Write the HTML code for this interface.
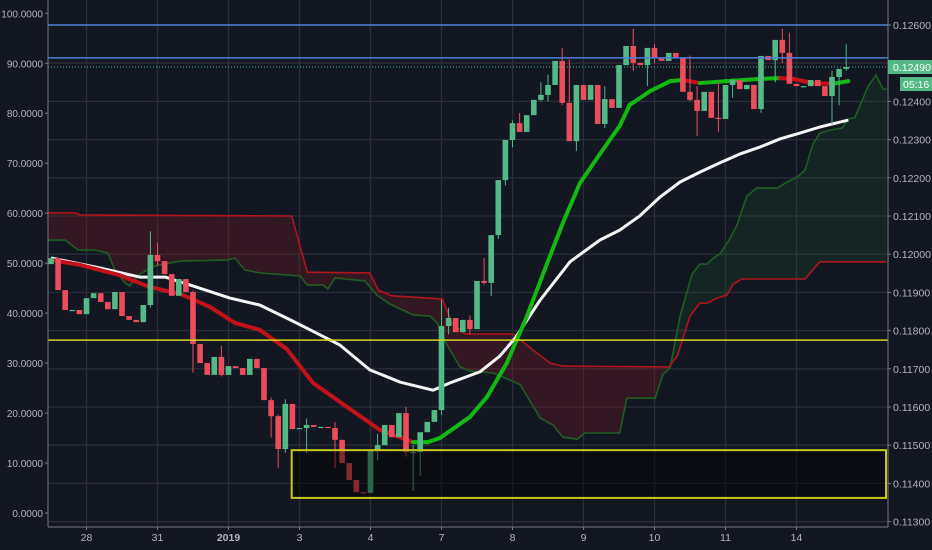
<!DOCTYPE html>
<html><head><meta charset="utf-8"><style>
html,body{margin:0;padding:0;background:#131722;}
svg{display:block;font-family:"Liberation Sans",sans-serif;}
</style></head><body>
<svg id="chart" width="932" height="550" viewBox="0 0 932 550" xmlns="http://www.w3.org/2000/svg">
<rect x="0" y="0" width="932" height="550" fill="#131722"/>
<g id="grid"></g>
<g id="cloud"></g>
<g id="lines"></g>
<g id="candles"></g>
<g id="overlay"></g>
<g id="axes"></g>
</svg>
<script>
// ---- data ----
const closes = [11990,11906,11854,11854,11843,11885,11898,11875,11856,11901,11838,11828,11822,11867,11998,11982,11948,11891,11935,11901,11765,11715,11684,11731,11684,11707,11702,11684,11726,11702,11618,11576,11490,11608,11542,11545,11553,11548,11548,11545,11514,11453,11409,11377,11375,11485,11500,11553,11521,11584,11482,11482,11534,11561,11592,11812,11833,11796,11828,11804,11930,11925,12050,12194,12299,12343,12320,12364,12404,12417,12443,12506,12396,12296,12443,12404,12443,12341,12406,12383,12495,12545,12501,12495,12540,12514,12506,12527,12514,12425,12404,12375,12425,12357,12354,12443,12456,12432,12443,12380,12519,12508,12561,12527,12446,12440,12440,12456,12440,12414,12464,12485,12490];
const firstOpen = 11974;
const wickIdx = [14,15,20,24,31,32,33,36,40,46,50,51,52,55,56,59,61,62,63,64,65,66,69,70,72,73,74,78,82,84,85,90,91,94,96,100,102,103,104,110,111,112];
const wickHi  = [12060,12030,11905,11760,11625,11580,11620,11570,11560,11530,11600,11500,11500,11880,11860,11840,11990,11940,12110,12230,12350,12370,12450,12470,12540,12510,12390,12440,12590,12520,12550,12520,12440,12450,12460,12450,12550,12590,12580,12480,12470,12550];
const wickLo  = [11860,11970,11690,11680,11520,11440,11480,11480,11440,11460,11470,11380,11420,11580,11790,11790,11920,11890,12040,12180,12280,12320,12400,12400,12390,12300,12270,12330,12480,12440,12500,12400,12310,12320,12410,12370,12450,12500,12480,12340,12390,12480];
const smaT = [0,6.9,12.5,16.1,19.6,25.2,29.4,33.7,36.5,40.7,44.9,49.2,53.8,56.2,60.4,63.2,65.4,68.9,73.1,77.3,80.1,82.9,85.8,88.6,91.4,94.2,97.0,99.9,102.7,105.5,108.3,112.3];
const smaV = [11990,11964,11940,11940,11919,11885,11867,11828,11802,11762,11697,11665,11644,11663,11692,11733,11781,11880,11980,12037,12063,12100,12150,12189,12215,12239,12262,12281,12302,12317,12333,12351];
const emaT = [0,4.1,9.7,13.9,18.2,22.4,25.9,29.4,33.2,36.9,41.7,46.3,51.0,53.1,54.8,59.0,61.4,64.2,67.0,69.9,72.1,74.5,77.3,80.1,81.5,84.4,87.2,89.0,91.4,95.2,99.9,102.7,104.5,107.3,110.1,112.3];
const emaV = [11985,11972,11945,11914,11896,11862,11820,11802,11752,11663,11600,11540,11508,11508,11519,11574,11626,11715,11836,11977,12082,12186,12262,12336,12391,12427,12453,12456,12448,12453,12459,12461,12459,12448,12446,12453];
const spanBT = [-0.4,3.4,4.1,33.9,36.1,44.9,46.1,48.0,55.1,56.5,58.3,65.1,67.9,70.3,72.1,87.0,88.2,90.0,91.4,92.4,93.8,95.2,96.1,97.3,106.2,107.3,108.3,117.7];
const spanBV = [12108,12108,12103,12100,11953,11951,11906,11891,11883,11820,11791,11791,11749,11715,11707,11705,11733,11838,11872,11872,11885,11893,11922,11935,11935,11959,11980,11980];
const spanAT = [-0.4,2.0,3.8,6.2,8.0,9.0,10.4,11.1,12.5,14.6,18.2,24.9,25.9,27.3,29.4,35.1,36.1,38.3,39.0,40.0,44.2,45.9,47.7,51.0,53.4,54.4,55.8,57.6,59.0,62.3,64.6,66.1,68.9,70.7,72.1,74.1,75.2,80.1,81.1,85.1,86.2,87.2,88.6,90.3,91.4,92.4,93.5,94.2,95.6,96.6,98.0,99.4,102.3,103.7,105.1,106.2,107.3,108.3,109.7,111.4,112.3,113.2,115.1,116.2,117.2,117.7];
const spanAV = [12037,12037,12011,12011,12003,11959,11925,11917,11948,11969,11982,11985,11990,11959,11951,11943,11919,11919,11909,11938,11930,11893,11870,11841,11838,11820,11762,11705,11694,11689,11671,11658,11571,11553,11521,11516,11532,11532,11623,11623,11686,11702,11838,11948,11974,11974,11993,12000,12040,12076,12152,12173,12173,12189,12202,12220,12288,12317,12325,12330,12354,12357,12440,12469,12432,12432];
const priceTicks = [12600,12500,12400,12300,12200,12100,12000,11900,11800,11700,11600,11500,11400,11300];
const leftTicks = [100,90,80,70,60,50,40,30,20,10,0];
const dayLabels = ["28","31","2019","3","4","7","8","9","10","11","14"];
const dayT = [5,15,25,35,45,55,65,75,85,95,105];
const blueLevels = [12600,12514];
const yellowLevel = 11775;
const boxTop = 11487, boxBottom = 11362, boxStartT = 33.9;
const lastPrice = 12490;

// ---- scales ----
const PL=48, PR=888, PB=527;
const xS = t => 51 + t*7.1;
const yS = v => 25 + (12600 - v)*0.382;
const yL = v => 13.3 + (100 - v)*4.997;
const NS="http://www.w3.org/2000/svg";
function mk(tag, parent, attrs){const e=document.createElementNS(NS,tag);for(const k in attrs)e.setAttribute(k,attrs[k]);parent.appendChild(e);return e;}
const grid=document.getElementById('grid'), cloud=document.getElementById('cloud'), lines=document.getElementById('lines'), cg=document.getElementById('candles'), ov=document.getElementById('overlay'), ax=document.getElementById('axes');

const defs=mk('defs',document.getElementById('chart'),{});
const cp=mk('clipPath',defs,{id:'plotclip'});
mk('rect',cp,{x:PL,y:0,width:PR-PL,height:PB});
[cloud,lines,cg,ov].forEach(g=>g.setAttribute('clip-path','url(#plotclip)'));

// grid
priceTicks.forEach(v=>{
  const l=mk('line',grid,{x1:PL,x2:PR,y1:yS(v),y2:yS(v),stroke:'#2a2e39','stroke-width':1.3});
  
  
});
dayT.forEach(t=>{
  const l=mk('line',grid,{x1:xS(t),x2:xS(t),y1:0,y2:PB,stroke:'#2a2e39','stroke-width':1.3});
  
  
});

// cloud fill: contiguous runs as single polygons
function interp(T,V,t){if(t<=T[0])return V[0];for(let i=1;i<T.length;i++){if(t<=T[i]){const f=(t-T[i-1])/(T[i]-T[i-1]);return V[i-1]+f*(V[i]-V[i-1]);}}return V[V.length-1];}
const t0=Math.max(spanAT[0],spanBT[0]), t1=Math.min(spanAT[spanAT.length-1],spanBT[spanBT.length-1]);
const samples=[];
for(let t=t0;t<=t1+1e-9;t+=0.2){samples.push([t,interp(spanAT,spanAV,t),interp(spanBT,spanBV,t)]);}
let run=[], runGreen=null;
function flush(){
  if(run.length<2){return;}
  const top=run.map(s=>xS(s[0]).toFixed(1)+','+yS(s[1]).toFixed(1));
  const bot=run.slice().reverse().map(s=>xS(s[0]).toFixed(1)+','+yS(s[2]).toFixed(1));
  const p=mk('polygon',cloud,{points:top.concat(bot).join(' '),fill:runGreen?'rgba(40,110,50,0.16)':'rgba(120,25,35,0.32)'});
  
  
}
samples.forEach(s=>{
  const g=s[1]>=s[2];
  if(runGreen===null){runGreen=g;}
  if(g!==runGreen){run.push(s);flush();run=[s];runGreen=g;}
  else run.push(s);
});
flush();
function path(T,V){return T.map((t,i)=>(i?'L':'M')+xS(t).toFixed(1)+','+yS(V[i]).toFixed(1)).join('');}
const pa=mk('path',cloud,{d:path(spanAT,spanAV),fill:'none',stroke:'#1e5e22','stroke-width':1.6});


const pb=mk('path',cloud,{d:path(spanBT,spanBV),fill:'none',stroke:'#b0141c','stroke-width':1.6});



// candles
for(let i=0;i<closes.length;i++){
  const o=i?closes[i-1]:firstOpen, c=closes[i];
  const up=c>=o, col=up?'#53b987':'#eb4d5c';
  const x=xS(i);
  const k=wickIdx.indexOf(i);
  if(k>=0){
    const w=mk('line',cg,{x1:x,x2:x,y1:yS(wickHi[k]),y2:yS(wickLo[k]),stroke:col,'stroke-width':1});
    
    
  }
  const top=yS(Math.max(o,c)), h=Math.max(1.2,Math.abs(yS(o)-yS(c)));
  const r=mk('rect',cg,{x:x-2.8,y:top,width:5.6,height:h,fill:col});
  
  
}

// SMA
const sma=mk('path',lines,{d:path(smaT,smaV),fill:'none',stroke:'#f4f4f4','stroke-width':3,'stroke-linejoin':'round'});


// EMA colored by slope
for(let i=1;i<emaT.length;i++){
  const up=emaV[i]>=emaV[i-1];
  const s=mk('line',lines,{x1:xS(emaT[i-1]),y1:yS(emaV[i-1]),x2:xS(emaT[i]),y2:yS(emaV[i]),stroke:up?'#11b911':'#c4101a','stroke-width':4,'stroke-linecap':'round'});
  
  
}

// drawings
blueLevels.forEach(v=>{
  const l=mk('line',ov,{x1:PL,x2:PR,y1:yS(v),y2:yS(v),stroke:'#4c7fd6','stroke-width':1.5});
  
  
});
const dl=mk('line',ov,{x1:PL,x2:PR,y1:yS(lastPrice),y2:yS(lastPrice),stroke:'#53b987','stroke-width':1,'stroke-dasharray':'1,2'});


const yl=mk('line',ov,{x1:PL,x2:PR,y1:yS(yellowLevel),y2:yS(yellowLevel),stroke:'#d6d61c','stroke-width':1.5});


const bx=mk('rect',ov,{x:xS(boxStartT),y:yS(boxTop),width:PR-xS(boxStartT)-2,height:yS(boxBottom)-yS(boxTop),fill:'rgba(0,0,0,0.45)',stroke:'#c8c81a','stroke-width':2});



// axes
mk('line',ax,{x1:PL,x2:PL,y1:0,y2:PB,stroke:'#787b86','stroke-width':1});
mk('line',ax,{x1:PR,x2:PR,y1:0,y2:PB,stroke:'#787b86','stroke-width':1});
mk('line',ax,{x1:PL,x2:PR,y1:PB,y2:PB,stroke:'#787b86','stroke-width':1});
leftTicks.forEach(v=>{
  mk('line',ax,{x1:PL-3,x2:PL,y1:yL(v),y2:yL(v),stroke:'#787b86'});
  const t=mk('text',ax,{x:PL-5,y:yL(v)+4,'text-anchor':'end','font-size':10,fill:'#b2b5be'});
  t.textContent=v.toFixed(4);
  
  
});
priceTicks.forEach(v=>{
  mk('line',ax,{x1:PR,x2:PR+3,y1:yS(v),y2:yS(v),stroke:'#787b86'});
  const t=mk('text',ax,{x:PR+5,y:yS(v)+4,'font-size':10.5,fill:'#b2b5be'});
  t.textContent=(v/100000).toFixed(5);
  
  
});
dayT.forEach((t,i)=>{
  mk('line',ax,{x1:xS(t),x2:xS(t),y1:PB,y2:PB+3,stroke:'#787b86'});
  const tx=mk('text',ax,{x:xS(t),y:541,'text-anchor':'middle','font-size':10.5,fill:'#b2b5be','font-weight':dayLabels[i]==='2019'?'bold':'normal'});
  tx.textContent=dayLabels[i];
  
  
});
const py=yS(lastPrice);
const bg=mk('rect',ax,{x:PR,y:py-7,width:44,height:14,fill:'#53b987'});


const bt=mk('text',ax,{x:PR+5,y:py+4,'font-size':10.5,fill:'#ffffff'});
bt.textContent=(lastPrice/100000).toFixed(5);


const tb=mk('rect',ax,{x:900,y:py+10,width:32,height:14,fill:'#53b987'});


const tt=mk('text',ax,{x:903,y:py+21,'font-size':10.5,fill:'#ffffff'});
tt.textContent='05:16';


</script>
</body></html>
